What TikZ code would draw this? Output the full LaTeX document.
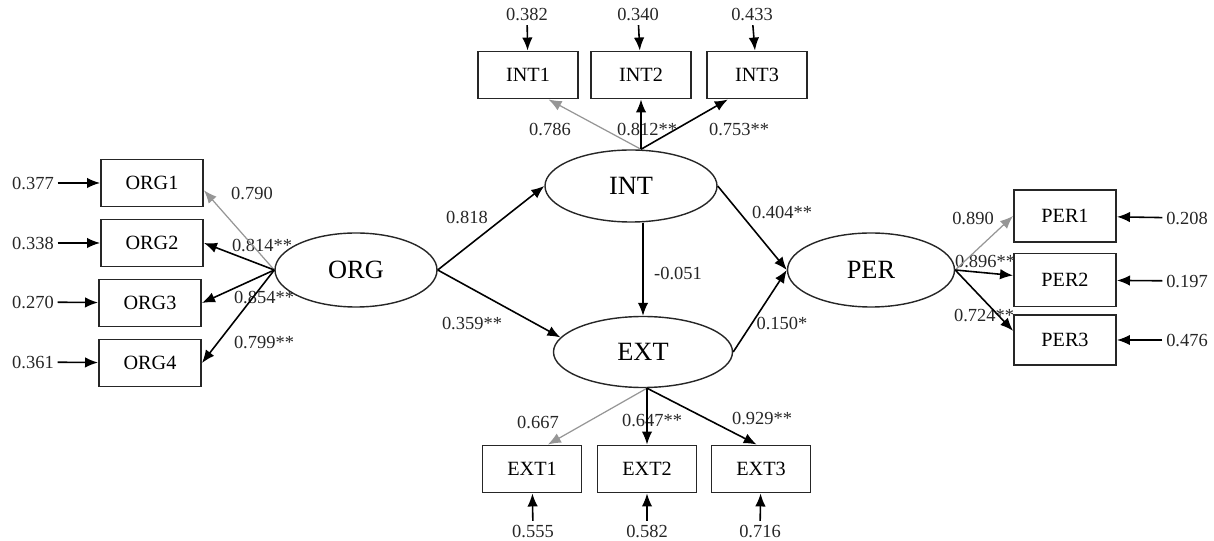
\documentclass[tikz,border=0pt]{standalone}
\usepackage{fontspec}
\setmainfont{Liberation Serif}
\usepackage{tikz}
\usetikzlibrary{arrows.meta}
\usetikzlibrary{shapes.geometric}
\definecolor{fixgray}{RGB}{150,150,150}
\tikzstyle{latent}=[draw,ellipse,align=center,black!85,text=black,line width=0.8pt,inner sep=0,font=\fontsize{15}{17}\selectfont]
\tikzstyle{obsbox}=[draw,rectangle,align=center,black!85,text=black,line width=1.1pt,inner sep=0,minimum width=20.4mm,minimum height=9.4mm,font=\fontsize{11.5}{13}\selectfont]
\tikzstyle{coef}=[inner sep=2pt,text=black!85,font=\fontsize{10.5}{12}\selectfont]
\tikzstyle{errP}=[>={Latex[length=2.6mm,width=2.1mm]},draw,line width=0.9pt,black]
\tikzstyle{loadF}=[>={Latex[length=2.6mm,width=2.1mm]},draw,line width=0.7pt,fixgray]
\tikzstyle{loadS}=[>={Latex[length=2.6mm,width=2.1mm]},draw,line width=0.9pt,black]
\tikzstyle{hasaP}=[>={Latex[length=2.6mm,width=2.1mm]},draw,line width=0.9pt,black]

\begin{document}
\begin{tikzpicture}[x=0.2mm,y=-0.2mm]
\useasboundingbox (0,0) rectangle (1214,541);

	\node[latent,minimum width=32.4mm,minimum height=14.8mm] (org) at (356,270) {ORG};
	\node[latent,minimum width=34.4mm,minimum height=14.4mm] (int) at (631,186) {INT};
	\node[latent,minimum width=35.8mm,minimum height=14.2mm] (ext) at (643,352) {EXT};
	\node[latent,minimum width=33.4mm,minimum height=14.8mm] (per) at (871,270) {PER};

	\node[obsbox] (org1) at (152,183) {ORG1};
	\node[obsbox] (org2) at (152,243) {ORG2};
	\node[obsbox] (org3) at (150,303) {ORG3};
	\node[obsbox] (org4) at (150,363) {ORG4};

	\node[obsbox,minimum width=20mm] (int1) at (528,75) {INT1};
	\node[obsbox,minimum width=20mm] (int2) at (641,75) {INT2};
	\node[obsbox,minimum width=20mm] (int3) at (757,75) {INT3};

	\node[obsbox,minimum width=19.8mm] (ext1) at (532,469) {EXT1};
	\node[obsbox,minimum width=19.8mm] (ext2) at (647,469) {EXT2};
	\node[obsbox,minimum width=19.8mm] (ext3) at (761,469) {EXT3};

	\node[obsbox,minimum height=10.5mm] (per1) at (1065,216) {PER1};
	\node[obsbox,minimum height=10.6mm] (per2) at (1065,280) {PER2};
	\node[obsbox,minimum height=10mm] (per3) at (1065,340) {PER3};

	\node[coef] (eo1) at (33,183) {0.377};
	\node[coef] (eo2) at (33,243) {0.338};
	\node[coef] (eo3) at (33,302) {0.270};
	\node[coef] (eo4) at (33,362) {0.361};

	\node[coef] (ei1) at (527,15) {0.382};
	\node[coef] (ei2) at (638,15) {0.340};
	\node[coef] (ei3) at (752,15) {0.433};

	\node[coef] (ee1) at (533,531) {0.555};
	\node[coef] (ee2) at (647,531) {0.582};
	\node[coef] (ee3) at (760,531) {0.716};

	\node[coef] (ep1) at (1187,218) {0.208};
	\node[coef] (ep2) at (1187,281) {0.197};
	\node[coef] (ep3) at (1187,340) {0.476};

	\node[coef] (lo1) at (252,193) {0.790};
	\node[coef] (lo2) at (262,245) {0.814**};
	\node[coef] (lo3) at (264,297) {0.854**};
	\node[coef] (lo4) at (264,342) {0.799**};
	\node[coef] (li1) at (550,130) {0.786};
	\node[coef] (li2) at (647,130) {0.812**};
	\node[coef] (li3) at (739,130) {0.753**};
	\node[coef] (le1) at (538,422) {0.667};
	\node[coef] (le2) at (652,420) {0.647**};
	\node[coef] (le3) at (762,418) {0.929**};
	\node[coef] (lp1) at (973,218) {0.890};
	\node[coef] (lp2) at (985,261) {0.896**};
	\node[coef] (lp3) at (984,315) {0.724**};

	\node[coef] (b1) at (467,217) {0.818};
	\node[coef] (b2) at (472,323) {0.359**};
	\node[coef] (b3) at (678,273) {-0.051};
	\node[coef] (b4) at (782,212) {0.404**};
	\node[coef] (b5) at (782,323) {0.150*};

	\path[draw,hasaP,->] (org.east) -- (int.west);
	\path[draw,hasaP,->] (org.east) -- (ext.170);
	\path[draw,hasaP,->] (int.south -| ext.north) -- (ext.north);
	\path[draw,hasaP,->] (int.east) -- (per.west);
	\path[draw,hasaP,->] (ext.east) -- (per.west);

	\path[draw,loadF,->] (org.west) -- (org1.-8);
	\path[draw,loadS,->] (org.west) -- (org2.east);
	\path[draw,loadS,->] (org.west) -- (org3.east);
	\path[draw,loadS,->] (org.west) -- (org4.east);

	\path[draw,loadF,->] (int2.south |- int.north) -- (int1.-50);
	\path[draw,loadS,->] (int2.south |- int.north) -- (int2.south);
	\path[draw,loadS,->] (int2.south |- int.north) -- (int3.-140);

	\path[draw,loadF,->] (ext2.north |- ext.south) -- (ext1.57);
	\path[draw,loadS,->] (ext2.north |- ext.south) -- (ext2.north);
	\path[draw,loadS,->] (ext2.north |- ext.south) -- (ext3.100);

	\path[draw,loadF,->] (per.east) -- (per1.west);
	\path[draw,loadS,->] (per.east) -- (per2.175);
	\path[draw,loadS,->] (per.east) -- (per3.170);

	\path[draw,errP,->] (eo1) -- (org1);
	\path[draw,errP,->] (eo2) -- (org2);
	\path[draw,errP,->] (eo3) -- (org3);
	\path[draw,errP,->] (eo4) -- (org4);

	\path[draw,errP,->] (ei1) -- (int1);
	\path[draw,errP,->] (ei2) -- (int2);
	\path[draw,errP,->] (ei3) -- (int3);

	\path[draw,errP,->] (ee1) -- (ext1);
	\path[draw,errP,->] (ee2) -- (ext2);
	\path[draw,errP,->] (ee3) -- (ext3);

	\path[draw,errP,->] (ep1) -- (per1);
	\path[draw,errP,->] (ep2) -- (per2);
	\path[draw,errP,->] (ep3) -- (per3);
\end{tikzpicture}
\end{document}
